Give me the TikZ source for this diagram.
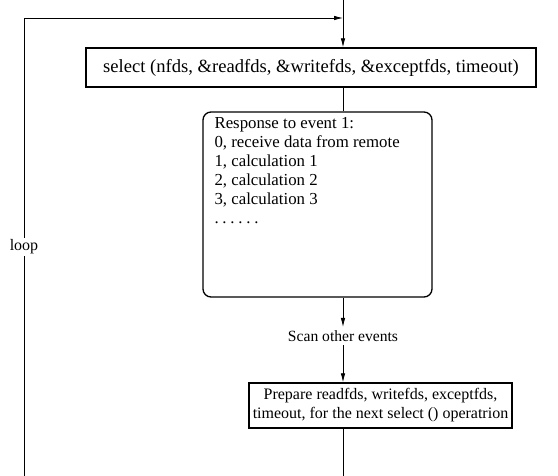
\documentclass[tikz,border=0pt]{standalone}
\usepackage{fontspec}
\setmainfont{Liberation Serif}
\usetikzlibrary{arrows.meta,positioning,calc}

\begin{document}
\begin{tikzpicture}[x=1pt,y=-1pt,
  box/.style={draw,line width=1.3pt,inner sep=0pt},
  flow/.style={line width=0.8pt,-{Latex[length=9pt,width=4.5pt]}},
  plain/.style={line width=0.8pt},
  txt/.style={font=\fontsize{16}{19}\selectfont}]
  \useasboundingbox (0,0) rectangle (558,476);
  % boxes
  \node[box,font=\fontsize{18.6}{22}\selectfont,minimum width=450pt,minimum height=39pt] (sel) at (311,67.5) {select (nfds, \&readfds, \&writefds, \&exceptfds, timeout)};
  \node[box,rounded corners=8pt,minimum width=229pt,minimum height=185pt] (resp) at (317.5,204.5) {};
  \node[font=\fontsize{16.8}{19}\selectfont,align=left,anchor=north west,inner sep=0pt] (resptxt) at ([xshift=12pt,yshift=-6pt]resp.north west) {Response to event 1:\\0, receive data from remote\\1, calculation 1\\2, calculation 2\\3, calculation 3\\\makebox[44pt][s]{.\hfill.\hfill.\hfill.\hfill.\hfill.}};
  \node[font=\fontsize{15.6}{18}\selectfont] (scan) at (343,336) {Scan other events};
  \node[box,txt,align=center,minimum width=263pt,minimum height=45pt] (prep) at (380.5,405.5) {Prepare readfds, writefds, exceptfds,\\timeout, for the next select () operatrion};
  % main line
  \coordinate (top) at (343,0);
  \coordinate (bot) at (343,476);
  \coordinate (lb) at (24,476);
  \coordinate (lt) at (24,18);
  \coordinate (lj) at (343,18);
  \draw[flow] (top) -- (top |- sel.north);
  \draw[plain] (top |- sel.south) -- (top |- resp.north);
  \draw[flow] (top |- resp.south) -- (scan.north);
  \draw[flow] (scan.south) -- (top |- prep.north);
  \draw[plain] (top |- prep.south) -- (bot);
  % loop back
  \draw[flow] (lb) -- node[txt,fill=white,inner sep=2pt] (looplbl) {loop} (lt) -- (lj);
\end{tikzpicture}
\end{document}
